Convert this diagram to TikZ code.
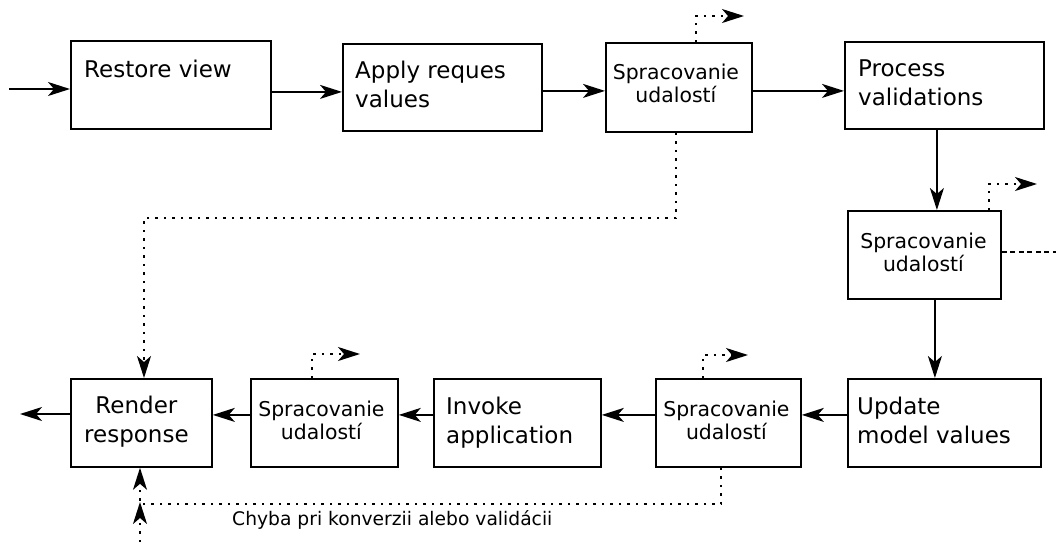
\documentclass[tikz,border=0pt]{standalone}
\usepackage{fontspec}
\setmainfont{DejaVu Sans}
\usetikzlibrary{arrows.meta,calc}

\begin{document}
\begin{tikzpicture}[x=1pt,y=-1pt,
  box/.style={draw, line width=1.8pt, rectangle, inner sep=0pt, anchor=north west},
  main/.style={font=\fontsize{23}{29}\selectfont, inner sep=0pt, align=left},
  ev/.style={font=\fontsize{20.4}{23}\selectfont, inner sep=0pt, align=center},
  note/.style={font=\fontsize{18.7}{22}\selectfont, inner sep=0pt},
  tip/.style={-{Stealth[length=22pt,width=14pt,inset=6pt]}},
  flow/.style={line width=1.8pt, tip},
  dots/.style={line width=1.8pt, dash pattern=on 2.5pt off 6pt},
  dashes/.style={line width=1.8pt, dash pattern=on 5pt off 3.5pt}
]
\useasboundingbox[fill=white] (0,0) rectangle (1056,542);

% phase boxes
\node[box, minimum width=200pt, minimum height=88pt] (restore) at (70,40) {};
\node[box, minimum width=199pt, minimum height=87pt] (apply)   at (342,43) {};
\node[box, minimum width=146pt, minimum height=89pt] (evA)     at (605,42) {};
\node[box, minimum width=199pt, minimum height=87pt] (process) at (844,41) {};
\node[box, minimum width=153pt, minimum height=88pt] (evB)     at (847,210) {};
\node[box, minimum width=193pt, minimum height=88pt] (update)  at (847,378) {};
\node[box, minimum width=145pt, minimum height=88pt] (evC)     at (655,378) {};
\node[box, minimum width=167pt, minimum height=88pt] (invoke)  at (433,378) {};
\node[box, minimum width=147pt, minimum height=88pt] (evD)     at (250,378) {};
\node[box, minimum width=141pt, minimum height=88pt] (render)  at (70,378) {};

% box texts (base anchor sits on the last line)
\node[main, anchor=base west] (restoreT) at ($(restore.north west)+(14,37)$) {Restore view};
\node[main, anchor=base west] (applyT)   at ($(apply.north west)+(13,64)$) {Apply reques\\values};
\node[main, anchor=base west] (processT) at ($(process.north west)+(14,64)$) {Process\\validations};
\node[main, anchor=base west] (updateT)  at ($(update.north west)+(10,65)$) {Update\\model values};
\node[main, anchor=base west] (invokeT)  at ($(invoke.north west)+(13,65)$) {Invoke\\application};
\node[main, anchor=base, align=center] (renderT) at ($(render.north)+(-5,64)$) {Render\\response};
\node[ev, anchor=base] (evAT) at ($(evA.center)+(-3,15.5)$) {Spracovanie\\udalostí};
\node[ev, anchor=base] (evBT) at ($(evB.center)+(-1,17)$) {Spracovanie\\udalostí};
\node[ev, anchor=base] (evCT) at ($(evC.center)+(-2,17)$) {Spracovanie\\udalostí};
\node[ev, anchor=base] (evDT) at ($(evD.center)+(-3,17)$) {Spracovanie\\udalostí};
\node[note, anchor=base west] (err) at (232,525) {Chyba pri konverzii alebo validácii};

% main flow
\coordinate (in) at (9,89);
\coordinate (out) at (20,414);
\draw[flow] (in) -- (in -| restore.west);
\draw[flow] ([yshift=-7pt]restore.east) -- ([yshift=-7pt]restore.east -| apply.west);
\draw[flow] ([yshift=-3.5pt]apply.east) -- ([yshift=-3.5pt]apply.east -| evA.west);
\draw[flow] ([yshift=-3.5pt]evA.east) -- ([yshift=-3.5pt]evA.east -| process.west);
\draw[flow] ([xshift=-7.5pt]process.south) -- ([xshift=-7.5pt]process.south |- evB.north);
\draw[flow] ([xshift=10.5pt]evB.south) -- ([xshift=10.5pt]evB.south |- update.north);
\draw[flow] ([yshift=8pt]update.west) -- ([yshift=8pt]update.west -| evC.east);
\draw[flow] ([yshift=8pt]evC.west) -- ([yshift=8pt]evC.west -| invoke.east);
\draw[flow] ([yshift=8pt]invoke.west) -- ([yshift=8pt]invoke.west -| evD.east);
\draw[flow] ([yshift=8pt]evD.west) -- ([yshift=8pt]evD.west -| render.east);
\draw[flow] (render.west |- out) -- (out);

% event side exits
\coordinate (exA) at (744,16);
\coordinate (exB) at (1037,184);
\coordinate (exC) at (748,355);
\coordinate (exD) at (360,354);
\coordinate (exR) at (1056,252);
\draw[dots, tip] ([xshift=17pt]evA.north) |- (exA);
\draw[dots, tip] ([xshift=64.5pt]evB.north) |- (exB);
\draw[dots, tip] ([xshift=-25.5pt]evC.north) |- (exC);
\draw[dots, tip] ([xshift=-12.5pt]evD.north) |- (exD);
\draw[dashes] (evB.east |- exR) -- (exR);

% jumps to render response
\coordinate (bendA) at (144,218);
\coordinate (bendC) at (140,504);
\coordinate (low0) at (140,542);
\coordinate (low1) at (140,502);
\draw[dots, tip] ([xshift=-3pt]evA.south) |- (bendA) -- (bendA |- render.north);
\draw[dots, tip] ([xshift=-7.5pt]evC.south) |- (bendC) -- (bendC |- render.south);
\draw[dots, tip] (low0) -- (low1);
\end{tikzpicture}
\end{document}
